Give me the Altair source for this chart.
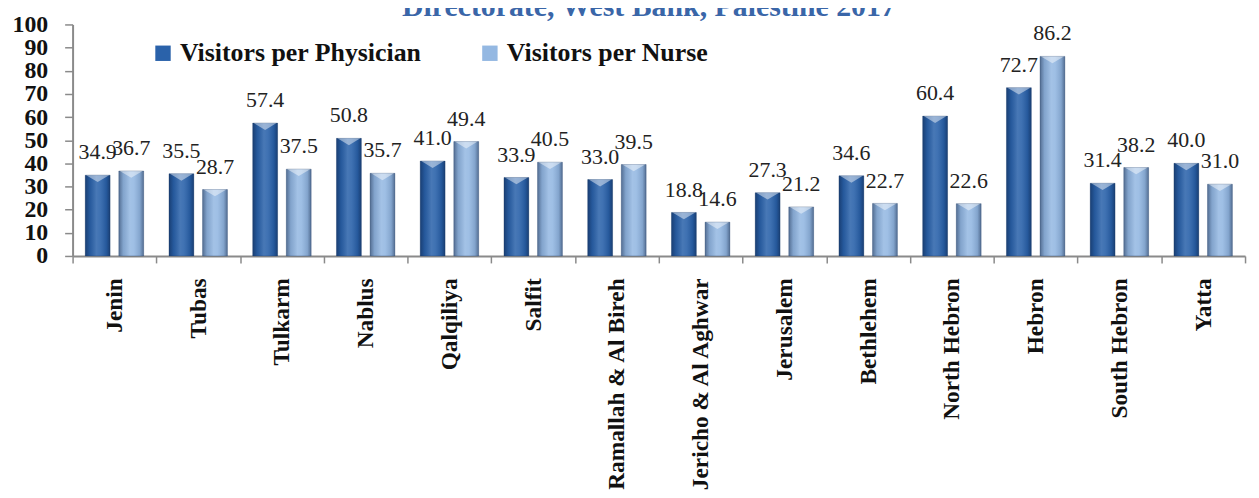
import altair as alt
import pandas as pd

categories = ["Jenin", "Tubas", "Tulkarm", "Nablus", "Qalqiliya", "Salfit",
              "Ramallah & Al Bireh", "Jericho & Al Aghwar", "Jerusalem",
              "Bethlehem", "North Hebron", "Hebron", "South Hebron", "Yatta"]
physician = [34.9, 35.5, 57.4, 50.8, 41.0, 33.9, 33.0, 18.8, 27.3, 34.6, 60.4, 72.7, 31.4, 40.0]
nurse = [36.7, 28.7, 37.5, 35.7, 49.4, 40.5, 39.5, 14.6, 21.2, 22.7, 22.6, 86.2, 38.2, 31.0]
series_names = ["Visitors per Physician", "Visitors per Nurse"]
series_colors = ["#2A62AA", "#94B8E2"]
title_text = "Directorate, West Bank, Palestine 2017"
y_ticks = list(range(0, 101, 10))

rows = []
for c, p, n in zip(categories, physician, nurse):
    rows.append({"district": c, "series": series_names[0], "value": p})
    rows.append({"district": c, "series": series_names[1], "value": n})
df = pd.DataFrame(rows)

serif = "Liberation Serif"

x_enc = alt.X("district:N", sort=categories, title=None,
              scale=alt.Scale(paddingInner=0, paddingOuter=0),
              axis=alt.Axis(labelAngle=-90, labelFont=serif, labelFontSize=23.5,
                            labelFontWeight="bold", labelColor="#111111",
                            labelLimit=500, labelPadding=15, tickSize=7,
                            labelOverlap=False,
                            tickBand="extent", tickColor="#8a8a8a", tickWidth=1.5,
                            domainColor="#8a8a8a", domainWidth=2))
xo_enc = alt.XOffset("series:N", sort=series_names,
                     scale=alt.Scale(paddingInner=0.26, paddingOuter=0.377))
y_enc = alt.Y("value:Q", title=None,
              scale=alt.Scale(domain=[0, 100], nice=False),
              axis=alt.Axis(values=y_ticks, grid=False, labelFont=serif,
                            labelFontSize=24, labelFontWeight="bold",
                            labelColor="#111111", labelPadding=17, tickSize=8,
                            labelOverlap=False,
                            tickColor="#8a8a8a", tickWidth=1.5,
                            domainColor="#8a8a8a", domainWidth=2))

base = alt.Chart(df).encode(x=x_enc, xOffset=xo_enc, y=y_enc)

bars = base.mark_bar().encode(
    color=alt.Color("series:N", sort=series_names,
                    scale=alt.Scale(domain=series_names, range=series_colors),
                    legend=alt.Legend(title=None, orient="none", legendX=78, legendY=16,
                                      direction="horizontal", symbolType="square",
                                      symbolSize=240, symbolStrokeWidth=0,
                                      labelFont=serif, labelFontSize=26,
                                      labelFontWeight="bold", labelColor="#111111",
                                      labelLimit=500, labelOffset=4, columnPadding=55))
)

shade = alt.LinearGradient(
    gradient="linear", x1=0, x2=1, y1=0, y2=0,
    stops=[alt.GradientStop(color="rgba(5,20,50,0.45)", offset=0),
           alt.GradientStop(color="rgba(5,20,50,0.12)", offset=0.18),
           alt.GradientStop(color="rgba(255,255,255,0.14)", offset=0.45),
           alt.GradientStop(color="rgba(255,255,255,0.10)", offset=0.6),
           alt.GradientStop(color="rgba(5,20,50,0.12)", offset=0.85),
           alt.GradientStop(color="rgba(5,20,50,0.45)", offset=1)])

overlay = base.mark_bar(fill=shade, stroke="#1c355e", strokeWidth=0.6, strokeOpacity=0.5)

bevel = base.mark_point(shape="M-1,0L1,0L0,0.6Z", filled=True, fill="white",
                        opacity=0.45, size=529, strokeWidth=0)

labels = base.mark_text(font=serif, fontSize=22, color="#222222",
                        baseline="alphabetic", dy=-16).encode(
    text=alt.Text("value:Q", format=".1f"))

title = alt.Chart(pd.DataFrame({"t": [title_text]})).mark_text(
    font=serif, fontSize=30, fontWeight="bold", color="#3A66A8",
    align="center", baseline="alphabetic").encode(
    text="t:N", x=alt.value(580), y=alt.value(-9))

chart = alt.layer(bars, overlay, bevel, labels, title).properties(
    width=1180, height=233,
    padding={"left": 65, "top": 15, "right": 6, "bottom": 234},
    autosize=alt.AutoSizeParams(type="none"),
).configure_view(stroke=None)

chart.save("out.html", embed_options={"renderer": "svg", "actions": False})
